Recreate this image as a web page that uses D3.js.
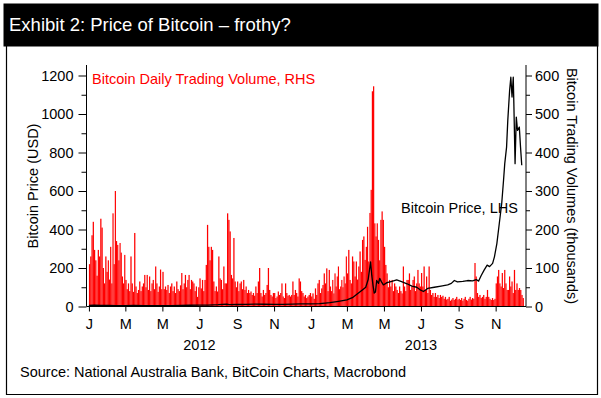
<!DOCTYPE html>
<html>
<head>
<meta charset="utf-8">
<script src="https://cdn.jsdelivr.net/npm/d3@7"></script>
<style>
  body { margin: 0; background: #fff; }
  svg { display: block; }
  text { font-family: "Liberation Sans", Arial, sans-serif; }
</style>
</head>
<body>
<div id="chart"></div>
<script>
// Bitcoin price, USD (LHS)
const priceDates = [
  "2012-01-01", "2012-01-10", "2012-01-20", "2012-02-01", "2012-02-15", "2012-03-01", "2012-03-15",
  "2012-04-01", "2012-04-15", "2012-05-01", "2012-05-15", "2012-06-01", "2012-06-15", "2012-07-01",
  "2012-07-15", "2012-08-01", "2012-08-15", "2012-08-19", "2012-09-01", "2012-09-15", "2012-10-01",
  "2012-10-15", "2012-11-01", "2012-11-15", "2012-12-01", "2012-12-15",
  "2013-01-01", "2013-01-15", "2013-01-24", "2013-02-01", "2013-02-15", "2013-03-01", "2013-03-10",
  "2013-03-20", "2013-03-28", "2013-04-01", "2013-04-05", "2013-04-09", "2013-04-11", "2013-04-13",
  "2013-04-15", "2013-04-17", "2013-04-19", "2013-04-22", "2013-04-24", "2013-04-27", "2013-04-30",
  "2013-05-06", "2013-05-14", "2013-05-22", "2013-05-30", "2013-06-08", "2013-06-16", "2013-06-24",
  "2013-06-29", "2013-07-05", "2013-07-12", "2013-07-23", "2013-08-03", "2013-08-14", "2013-08-20",
  "2013-08-25", "2013-08-30", "2013-09-08", "2013-09-16", "2013-09-24", "2013-09-30", "2013-10-04",
  "2013-10-08", "2013-10-13", "2013-10-18", "2013-10-22", "2013-10-27", "2013-10-30", "2013-11-03",
  "2013-11-07", "2013-11-11", "2013-11-14", "2013-11-16", "2013-11-19", "2013-11-21", "2013-11-24",
  "2013-11-26", "2013-11-28", "2013-11-30", "2013-12-01", "2013-12-03", "2013-12-05", "2013-12-07",
  "2013-12-10", "2013-12-12", "2013-12-14"
];
const priceUSD = [
  5.3, 6.8, 6.3, 6.0, 4.6, 4.9, 5.3,
  4.9, 4.9, 5.0, 5.0, 5.3, 6.5, 6.7,
  7.6, 9.3, 12.5, 9.5, 10.3, 11.5, 12.4,
  11.8, 10.7, 11.2, 12.6, 13.4,
  13.5, 14.5, 18, 20, 27, 34, 46,
  70, 90, 100, 140, 232, 160, 110,
  70, 75, 135, 120, 146, 128, 112,
  124, 130, 138, 129, 118, 106, 100,
  88, 78, 94, 100, 106, 112, 120,
  135, 128, 130, 135, 133, 140, 132,
  160, 189, 215, 207, 224, 258, 327,
  431, 535, 656, 742, 828, 967, 1122,
  1191, 1088, 1191, 1053, 742, 984, 915,
  932, 828, 734
];

// Daily trading volume, thousands (RHS) - ~2-day readings, 15 per month
const vol2012 = [
  [110, 130, 185, 220, 147, 120, 80, 147, 130, 228, 205, 100, 60, 130, 90],
  [120, 70, 155, 60, 242, 110, 300, 170, 160, 120, 165, 140, 78, 60, 134],
  [69, 45, 60, 40, 130, 60, 38, 191, 52, 35, 43, 65, 40, 52, 60],
  [82, 50, 82, 43, 78, 40, 60, 69, 45, 104, 60, 38, 52, 96, 45],
  [90, 45, 52, 43, 56, 35, 52, 60, 40, 52, 35, 65, 45, 40, 55],
  [87, 45, 60, 82, 50, 69, 82, 45, 69, 65, 60, 40, 52, 25, 50],
  [73, 47, 69, 40, 69, 108, 212, 155, 120, 155, 147, 65, 40, 52, 39],
  [130, 73, 69, 45, 104, 60, 60, 242, 225, 195, 82, 73, 178, 65, 50],
  [65, 40, 60, 65, 45, 69, 43, 52, 35, 43, 35, 39, 30, 35, 28],
  [52, 35, 65, 100, 35, 26, 43, 30, 35, 56, 100, 43, 30, 26, 35],
  [35, 22, 26, 39, 30, 35, 60, 26, 22, 60, 35, 28, 30, 26, 30],
  [65, 30, 43, 35, 26, 73, 65, 40, 35, 26, 30, 22, 26, 30, 35]
];
const vol2013 = [
  [26, 34, 20, 47, 30, 60, 69, 35, 47, 56, 86, 60, 99, 40, 95],
  [52, 40, 69, 34, 86, 52, 78, 104, 45, 52, 69, 50, 78, 60, 130],
  [86, 147, 69, 60, 130, 117, 78, 117, 70, 104, 143, 90, 173, 182, 121],
  [155, 207, 117, 243, 303, 559, 572, 216, 182, 216, 173, 120, 225, 247, 225],
  [155, 108, 86, 50, 69, 52, 69, 40, 60, 52, 43, 35, 52, 40, 34],
  [104, 52, 40, 69, 69, 86, 43, 52, 69, 78, 40, 60, 95, 60, 52],
  [87, 52, 104, 43, 78, 35, 104, 43, 30, 35, 25, 35, 25, 30, 22],
  [30, 25, 28, 20, 25, 18, 20, 25, 15, 18, 22, 17, 20, 25, 18],
  [20, 17, 22, 15, 20, 25, 17, 15, 20, 25, 18, 22, 20, 113, 78],
  [35, 25, 30, 22, 25, 30, 20, 25, 43, 25, 20, 17, 22, 17, 20],
  [60, 78, 95, 60, 52, 87, 48, 95, 60, 43, 43, 78, 52, 65, 35],
  [95, 43, 60, 43, 48, 43, 30, 22]
];

const yearLabels = ["2012", "2013"];

const width = 601, height = 398;
const plot = { left: 86.5, right: 526, top: 65, bottom: 306.5 };

const svg = d3.select("#chart").append("svg")
  .attr("width", width)
  .attr("height", height);

// Header band and frame
svg.append("rect")
  .attr("x", 3.5).attr("y", 3.5)
  .attr("width", 595).attr("height", 43)
  .attr("fill", "#000");
svg.append("text")
  .attr("x", 9).attr("y", 31)
  .attr("fill", "#fff")
  .attr("font-size", "18.5px")
  .text("Exhibit 2: Price of Bitcoin \u2013 frothy?");
svg.append("path")
  .attr("d", "M6.5,46V394.5H597.5V46")
  .attr("fill", "none")
  .attr("stroke", "#000")
  .attr("stroke-width", 1.2);

// Scales
const x = d3.scaleTime()
  .domain([new Date(2011, 11, 28), new Date(2013, 11, 21)])
  .range([plot.left, plot.right]);
const yL = d3.scaleLinear().domain([0, 1200]).range([plot.bottom, 75.5]);
const yR = d3.scaleLinear().domain([0, 600]).range([plot.bottom, 75.5]);

// Build volume bars from the monthly readings
const volume = [];
[vol2012, vol2013].forEach((year, yi) => {
  year.forEach((vals, m) => {
    const start = new Date(2012 + yi, m, 1);
    const end = new Date(2012 + yi, m + 1, 1);
    const slot = (end - start) / 15;
    vals.forEach((v, i) => {
      volume.push({ t0: new Date(+start + i * slot), t1: new Date(+start + (i + 1) * slot), v });
    });
  });
});

svg.append("g").attr("class", "bars")
  .selectAll("rect")
  .data(volume)
  .join("rect")
  .attr("x", (d) => x(d.t0))
  .attr("width", (d) => x(d.t1) - x(d.t0))
  .attr("y", (d) => yR(d.v))
  .attr("height", (d) => yR(0) - yR(d.v))
  .attr("fill", "#ff0000");

// Price line
const price = priceDates.map((d, i) => ({ date: d3.timeParse("%Y-%m-%d")(d), value: priceUSD[i] }));
svg.append("path")
  .datum(price)
  .attr("fill", "none")
  .attr("stroke", "#000")
  .attr("stroke-width", 1.3)
  .attr("stroke-linejoin", "round")
  .attr("d", d3.line().x((d) => x(d.date)).y((d) => yL(d.value)));

// Axes
const styleAxis = (g) => {
  g.attr("font-family", null).attr("font-size", null);
  g.selectAll("text").attr("font-size", "14.5px").attr("fill", "#000");
  g.selectAll("line").attr("stroke", "#000");
  g.select(".domain").remove();
};

svg.append("g")
  .attr("transform", `translate(${plot.left},0)`)
  .call(d3.axisLeft(yL).tickValues(d3.range(0, 1201, 200)).tickFormat(d3.format("d"))
    .tickSize(8).tickPadding(5))
  .call(styleAxis);
svg.append("g")
  .attr("transform", `translate(${plot.left},0)`)
  .call(d3.axisLeft(yL).tickValues(d3.range(100, 1200, 200)).tickSize(5).tickFormat(""))
  .call(styleAxis);

svg.append("g")
  .attr("transform", `translate(${plot.right},0)`)
  .call(d3.axisRight(yR).tickValues(d3.range(0, 601, 100)).tickFormat(d3.format("d"))
    .tickSize(6).tickPadding(3))
  .call(styleAxis);
svg.append("g")
  .attr("transform", `translate(${plot.right},0)`)
  .call(d3.axisRight(yR).tickValues(d3.range(50, 600, 100)).tickSize(4).tickFormat(""))
  .call(styleAxis);

svg.append("g")
  .attr("transform", `translate(0,${plot.bottom})`)
  .call(d3.axisBottom(x)
    .tickValues(d3.timeMonth.range(new Date(2012, 0, 1), new Date(2014, 0, 1), 2))
    .tickFormat((d) => d3.timeFormat("%b")(d)[0])
    .tickSize(5).tickPadding(7))
  .call(styleAxis);

// Axis lines
svg.append("path")
  .attr("d", `M${plot.left},${plot.top}V${plot.bottom}H${plot.right}V${plot.top}`)
  .attr("fill", "none")
  .attr("stroke", "#000")
  .attr("stroke-width", 1);

// Year labels
svg.append("g")
  .selectAll("text")
  .data(yearLabels)
  .join("text")
  .attr("x", (d) => x(new Date(+d, 6, 1)))
  .attr("y", 350)
  .attr("text-anchor", "middle")
  .attr("font-size", "14.5px")
  .text((d) => d);

// Axis titles
svg.append("text")
  .attr("transform", "translate(38,186) rotate(-90)")
  .attr("text-anchor", "middle")
  .attr("font-size", "14.5px")
  .text("Bitcoin Price (USD)");
svg.append("text")
  .attr("transform", "translate(567,186) rotate(90)")
  .attr("text-anchor", "middle")
  .attr("font-size", "14.5px")
  .text("Bitcoin Trading Volumes (thousands)");

// Series labels
svg.append("text")
  .attr("x", 92).attr("y", 84)
  .attr("fill", "#ff0000")
  .attr("font-size", "14.5px")
  .text("Bitcoin Daily Trading Volume, RHS");
svg.append("text")
  .attr("x", 401).attr("y", 213)
  .attr("font-size", "14.5px")
  .text("Bitcoin Price, LHS");

// Source
svg.append("text")
  .attr("x", 20).attr("y", 377)
  .attr("font-size", "14.5px")
  .text("Source: National Australia Bank, BitCoin Charts, Macrobond");
</script>
</body>
</html>
